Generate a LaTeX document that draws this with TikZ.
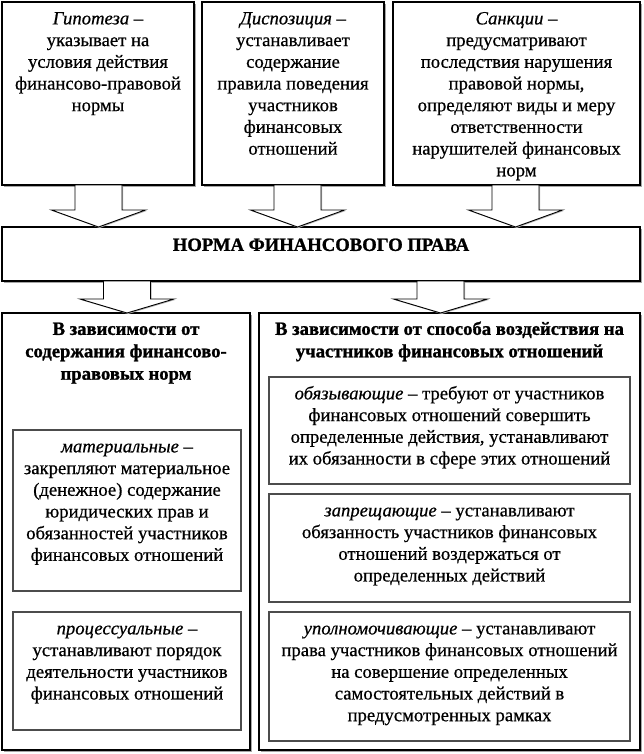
\documentclass[tikz,border=0pt]{standalone}
\usepackage{fontspec}
\setmainfont{Liberation Serif}[UprightFeatures={FakeBold=0.6}, ItalicFeatures={FakeBold=0.6}, BoldFeatures={FakeBold=1.2}]
\usetikzlibrary{calc,shadows}
\tikzset{
  outerbox/.style={draw=black, line width=1.4pt, fill=white, outer sep=0pt, inner sep=0pt, anchor=north west,
    drop shadow={shadow xshift=1.8pt, shadow yshift=-1.8pt, fill=gray!70, opacity=1}},
  innerbox/.style={draw=gray!60!black, line width=1.1pt, fill=white, outer sep=0pt, inner sep=0pt, anchor=north west,
    drop shadow={shadow xshift=1.3pt, shadow yshift=-1.3pt, fill=gray!45, opacity=1}},
  txt/.style={anchor=north, inner sep=0pt, align=center, font=\fontsize{18.67}{21.7}\selectfont},
  hdr/.style={anchor=north, inner sep=0pt, align=center, font=\fontsize{18.67}{22.4}\selectfont\bfseries},
  barrow/.style={draw=black, line width=0.9pt, fill=white, line join=miter,
    drop shadow={shadow xshift=1pt, shadow yshift=-1pt, fill=gray!60, opacity=1}},
}
\newcommand{\blockarr}[4]{%
  \draw[barrow] let \p1=($(#1)+(#3,0)$), \p2=(#2) in
    (\x1-23.5pt,\y1) -- (\x1-23.5pt,\y2+#4) -- (\x1-47pt,\y2+#4) -- (\x1,\y2)
    -- (\x1+47pt,\y2+#4) -- (\x1+23.5pt,\y2+#4) -- (\x1+23.5pt,\y1) -- cycle;
}
\begin{document}
\begin{tikzpicture}[x=1pt,y=-1pt]
\useasboundingbox (0,0) rectangle (643,754);
% top boxes
\node[outerbox, minimum width=192, minimum height=183] (b1) at (2,2) {};
\node[outerbox, minimum width=182, minimum height=183] (b2) at (202,2) {};
\node[outerbox, minimum width=247, minimum height=183] (b3) at (393,2) {};
% norm box
\node[outerbox, minimum width=638, minimum height=54] (norm) at (2,227) {};
% lower outer boxes
\node[outerbox, minimum width=248, minimum height=437] (L) at (2,313) {};
\node[outerbox, minimum width=381, minimum height=437] (R) at (259,313) {};
% inner boxes
\node[innerbox, minimum width=228, minimum height=161] (li1) at (13,430) {};
\node[innerbox, minimum width=228, minimum height=118] (li2) at (13,612) {};
\node[innerbox, minimum width=361, minimum height=107] (ri1) at (269,377) {};
\node[innerbox, minimum width=361, minimum height=108] (ri2) at (269,494) {};
\node[innerbox, minimum width=361, minimum height=129] (ri3) at (269,612) {};
% arrows
\blockarr{b1.south}{norm.north}{0.5}{17pt}
\blockarr{b2.south}{norm.north}{4.5}{17pt}
\blockarr{b3.south}{norm.north}{-1}{17pt}
\blockarr{norm.south -| L.north}{L.north}{1}{14pt}
\blockarr{norm.south -| R.north}{R.north}{-9}{14pt}
% texts
\node[txt] (t1) at ($(b1.north)+(0,7)$) {\strut\textit{Гипотеза} –\\указывает на\\условия действия\\финансово-правовой\\нормы};
\node[txt] (t2) at ($(b2.north)+(0,7)$) {\strut\textit{Диспозиция} –\\устанавливает\\содержание\\правила поведения\\участников\\финансовых\\отношений};
\node[txt] (t3) at ($(b3.north)+(0,7)$) {\strut\textit{Санкции} –\\предусматривают\\последствия нарушения\\правовой нормы,\\определяют виды и меру\\ответственности\\нарушителей финансовых\\норм};
\node[hdr] (tn) at ($(norm.north)+(0,8)$) {\strut НОРМА ФИНАНСОВОГО ПРАВА};
\node[hdr] (tl) at ($(L.north)+(0,6)$) {\strut В зависимости от\\содержания финансово-\\правовых норм};
\node[hdr] (tr) at ($(R.north)+(0,6)$) {\strut В зависимости от способа воздействия на\\участников финансовых отношений};
\node[txt] (tli1) at ($(li1.north)+(0,7)$) {\strut\textit{материальные} –\\закрепляют материальное\\(денежное) содержание\\юридических прав и\\обязанностей участников\\финансовых отношений};
\node[txt] (tli2) at ($(li2.north)+(0,7)$) {\strut\textit{процессуальные} –\\устанавливают порядок\\деятельности участников\\финансовых отношений};
\node[txt] (tri1) at ($(ri1.north)+(0,7)$) {\strut\textit{обязывающие} – требуют от участников\\финансовых отношений совершить\\определенные действия, устанавливают\\их обязанности в сфере этих отношений};
\node[txt] (tri2) at ($(ri2.north)+(0,7)$) {\strut\textit{запрещающие} – устанавливают\\обязанность участников финансовых\\отношений воздержаться от\\определенных действий};
\node[txt] (tri3) at ($(ri3.north)+(0,7)$) {\strut\textit{уполномочивающие} – устанавливают\\права участников финансовых отношений\\на совершение определенных\\самостоятельных действий в\\предусмотренных рамках};
\end{tikzpicture}
\end{document}
